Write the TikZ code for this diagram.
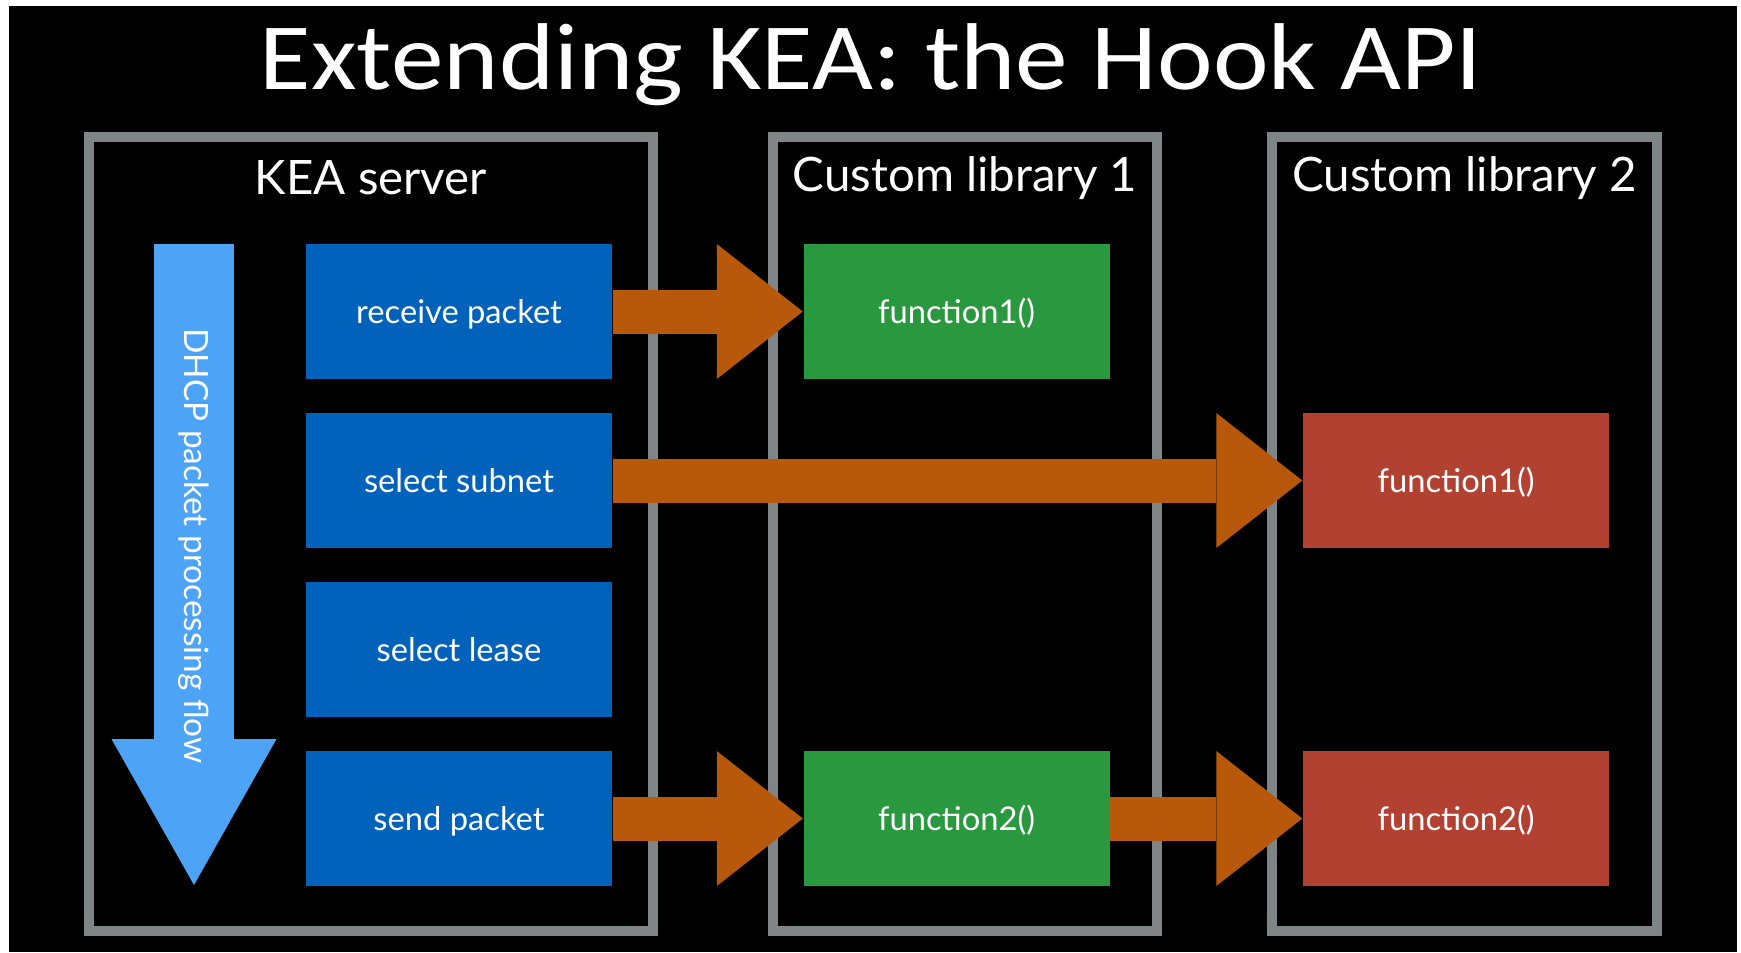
\documentclass[tikz,border=0pt]{standalone}
\usepackage{fontspec}
\setmainfont{Lato}
\newfontfamily\titlefont[FakeStretch=1.11]{Carlito}
\usetikzlibrary{positioning,arrows.meta,calc}
\definecolor{framegray}{RGB}{127,132,135}
\definecolor{stageblue}{RGB}{0,98,187}
\definecolor{flowblue}{RGB}{77,163,245}
\definecolor{libgreen}{RGB}{42,152,62}
\definecolor{libred}{RGB}{178,65,50}
\definecolor{hookorange}{RGB}{184,88,10}

\begin{document}
\begin{tikzpicture}[
  frame/.style={draw=framegray, line width=1mm},
  hdr/.style={text=white, font=\fontsize{13.5}{16}\selectfont},
  stage/.style={fill=stageblue, text=white, inner sep=0pt,
                minimum width=3.06cm, minimum height=1.35cm,
                text height=1.5ex, text depth=0.15ex,
                font=\fontsize{9.3}{11}\selectfont},
  fngreen/.style={stage, fill=libgreen},
  fnred/.style={stage, fill=libred},
  hook/.style={draw=hookorange, line width=4.4mm,
               -{Triangle[length=8.6mm,width=13.5mm,line width=0pt]}},
  flow/.style={draw=flowblue, line width=8mm,
               -{Triangle[length=14.6mm,width=16.5mm,line width=0pt]}},
]
\useasboundingbox (0,0) rectangle (17.41,-9.52);
\fill[white] (0,0) rectangle (17.41,-9.52);
\fill[black] (0.09,-0.06) rectangle (17.37,-9.52);

% title
\node[text=white, anchor=base, font=\titlefont\fontsize{27}{30}\selectfont] (title) at (8.71,-0.89)
  {Extending KEA: the Hook API};

% the three containers
\draw[frame] (0.89,-1.37) rectangle (6.53,-9.31);
\draw[frame] (7.73,-1.37) rectangle (11.57,-9.31);
\draw[frame] (12.72,-1.37) rectangle (16.57,-9.31);

\node[hdr] (keahdr)  at (3.71,-1.78)  {KEA server};
\node[hdr] (lib1hdr) at (9.65,-1.78)  {Custom library 1};
\node[hdr] (lib2hdr) at (14.645,-1.78) {Custom library 2};

% processing flow
\coordinate (flowtop) at (1.94,-2.44);
\coordinate (flowtip) at (1.94,-8.85);
\draw[flow] (flowtop) -- (flowtip);
\node[text=white, rotate=-90, font=\fontsize{9.5}{11}\selectfont] (flowlbl) at (1.94,-5.46)
  {DHCP packet processing flow};

% server stages
\node[stage] (recv)   at (4.59,-3.115) {receive packet};
\node[stage] (subnet) at (4.59,-4.805) {select subnet};
\node[stage] (lease)  at (4.59,-6.495) {select lease};
\node[stage] (send)   at (4.59,-8.185) {send packet};

% library callouts
\node[fngreen] (lib1fa) at (9.565,-3.115) {function1()};
\node[fngreen] (lib1fb) at (9.565,-8.185) {function2()};
\node[fnred]   (lib2fa) at (14.56,-4.805) {function1()};
\node[fnred]   (lib2fb) at (14.56,-8.185) {function2()};

% hooks
\draw[hook] (recv.east)   -- (lib1fa.west);
\draw[hook] (subnet.east) -- (lib2fa.west);
\draw[hook] (send.east)   -- (lib1fb.west);
\draw[hook] (lib1fb.east) -- (lib2fb.west);
\end{tikzpicture}
\end{document}
